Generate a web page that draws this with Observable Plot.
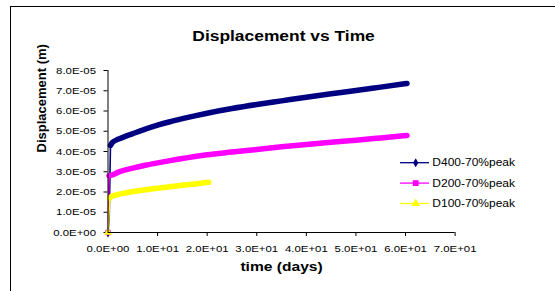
<!DOCTYPE html>
<html><head><meta charset="utf-8">
<script src="https://cdn.jsdelivr.net/npm/d3@7"></script>
<script src="https://cdn.jsdelivr.net/npm/@observablehq/plot@0.6"></script>
<style>body{margin:0;background:#fff}#chart{width:555px;height:291px}</style>
</head><body><div id="chart"></div>
<script>
const title = "Displacement vs Time";
const xLabel = "time (days)";
const yLabel = "Displacement (m)";
const seriesNames = ["D400-70%peak", "D200-70%peak", "D100-70%peak"];
const seriesColors = ["#000080", "#ff00ff", "#ffff00"];
const seriesSymbols = ["diamond", "square", "triangle"];
const xTicks = [0, 10, 20, 30, 40, 50, 60, 70];
const yTicks = [0, 1e-5, 2e-5, 3e-5, 4e-5, 5e-5, 6e-5, 7e-5, 8e-5];

// time (days) and displacement (m)
const t400 = [0, 0.25, 0.5, 0.9, 2, 3, 5, 7.5, 10, 12.5, 15, 17.5, 20, 25, 30, 35, 40, 45, 50, 55, 60.3];
const v400 = [0, 0.8e-5, 4.3e-5, 4.45e-5, 4.6e-5, 4.7e-5, 4.88e-5, 5.1e-5, 5.3e-5, 5.47e-5, 5.62e-5, 5.76e-5, 5.89e-5, 6.12e-5, 6.32e-5, 6.5e-5, 6.68e-5, 6.85e-5, 7.01e-5, 7.18e-5, 7.36e-5];
const t200 = [0, 0.2, 1, 2, 3, 5, 7.5, 10, 12.5, 15, 17.5, 20, 25, 30, 35, 40, 45, 50, 55, 60.3];
const v200 = [0, 2.8e-5, 2.86e-5, 2.97e-5, 3.05e-5, 3.18e-5, 3.32e-5, 3.44e-5, 3.55e-5, 3.65e-5, 3.75e-5, 3.84e-5, 3.97e-5, 4.1e-5, 4.23e-5, 4.35e-5, 4.46e-5, 4.56e-5, 4.67e-5, 4.79e-5];
const t100 = [0, 0.35, 0.7, 2, 3, 5, 7.5, 10, 12.5, 15, 17.5, 20.3];
const v100 = [0, 1.7e-5, 1.78e-5, 1.87e-5, 1.93e-5, 2.02e-5, 2.11e-5, 2.19e-5, 2.26e-5, 2.33e-5, 2.4e-5, 2.48e-5];
// index where the steady creep band begins
const creepStart = [2, 1, 1];

const times = [t400, t200, t100];
const vals = [v400, v200, v100];
const rows = [];
seriesNames.forEach((s, i) => times[i].forEach((t, j) => rows.push({series: s, t, v: vals[i][j], j, jump: j <= creepStart[i], creep: j >= creepStart[i]})));

const fmtE = v => {
  if (Math.abs(v) < 1e-12) return "0.0E+00";
  const [m, e] = v.toExponential(1).split("e");
  const n = +e;
  return m + "E" + (n < 0 ? "-" : "+") + String(Math.abs(n)).padStart(2, "0");
};

const FONT = "'Liberation Sans', Arial, sans-serif";
const color = {domain: seriesNames, range: seriesColors};

const plot = Plot.plot({
  width: 555, height: 291,
  marginLeft: 107.5, marginRight: 100.4, marginTop: 70, marginBottom: 59,
  style: {fontFamily: FONT, color: "#000", background: "#fff", overflow: "visible"},
  x: {domain: [0, 70], label: null},
  y: {domain: [0, 8e-5], label: null},
  color,
  marks: [
    Plot.axisX({ticks: xTicks, tickFormat: fmtE, tickSize: 4, tickPadding: 9, fontSize: 9.5, label: null}),
    Plot.axisY({ticks: yTicks, tickFormat: fmtE, tickSize: 4, tickPadding: 8, fontSize: 9.5, label: null}),
    Plot.line(rows.filter(d => d.jump), {x: "t", y: "v", z: "series", stroke: "series", strokeWidth: 1.6}),
    Plot.line(rows.filter(d => d.creep), {x: "t", y: "v", z: "series", stroke: "series", strokeWidth: 5.5, strokeLinejoin: "round", curve: "monotone-x"}),
    Plot.dot(rows.filter(d => d.j === 0), {x: "t", y: "v", fill: "series", symbol: d => seriesSymbols[seriesNames.indexOf(d.series)], r: 3}),
    Plot.ruleX([0], {stroke: "#000", strokeWidth: 1}),
    Plot.ruleY([0], {stroke: "#000", strokeWidth: 1}),
    Plot.text([title], {frameAnchor: "top", dy: -40, dx: 2, fontSize: 14.5, fontWeight: "bold", fill: "#000"}),
    Plot.text([xLabel], {frameAnchor: "bottom", dy: 38, dx: 0, fontSize: 13, fontWeight: "bold", fill: "#000"}),
    Plot.text([yLabel], {frameAnchor: "left", dx: -66, dy: 1, rotate: -90, fontSize: 13, fontWeight: "bold", fill: "#000"})
  ]
});
plot.setAttribute("symbol", null);
document.getElementById("chart").appendChild(plot);

const svg = d3.select(plot);
// outer frame
svg.append("line").attr("x1", 10).attr("x2", 555).attr("y1", 6.5).attr("y2", 6.5).attr("stroke", "#000");
svg.append("line").attr("x1", 10.5).attr("x2", 10.5).attr("y1", 6).attr("y2", 291).attr("stroke", "#000");

// legend
const symMap = {diamond: d3.symbolDiamond, square: d3.symbolSquare, triangle: d3.symbolTriangle};
const symSize = {diamond: 24, square: 34, triangle: 32};
const lg = svg.append("g").attr("transform", "translate(400,162.7)");
seriesNames.forEach((s, i) => {
  const g = lg.append("g").attr("transform", `translate(0,${i * 20.4})`);
  g.append("line").attr("x1", 0).attr("x2", 29).attr("stroke", seriesColors[i]).attr("stroke-width", 1.3);
  g.append("path").attr("transform", "translate(15.7,0)").attr("d", d3.symbol(symMap[seriesSymbols[i]], symSize[seriesSymbols[i]])()).attr("fill", seriesColors[i]);
  g.append("text").attr("x", 32.3).attr("dy", "0.35em").attr("text-anchor", "start").attr("font-size", 10).attr("font-family", FONT).attr("fill", "#000").text(s);
});

// horizontal stretch of text glyphs, as in the reference rendering
plot.querySelectorAll("text").forEach(t => {
  const tr = (t.getAttribute("transform") || "") + (t.parentNode.getAttribute && t.parentNode.getAttribute("transform") || "");
  if (tr.includes("rotate")) return;
  const L = t.getComputedTextLength();
  if (L > 0) { t.setAttribute("textLength", L * 1.2); t.setAttribute("lengthAdjust", "spacingAndGlyphs"); }
});
</script></body></html>
